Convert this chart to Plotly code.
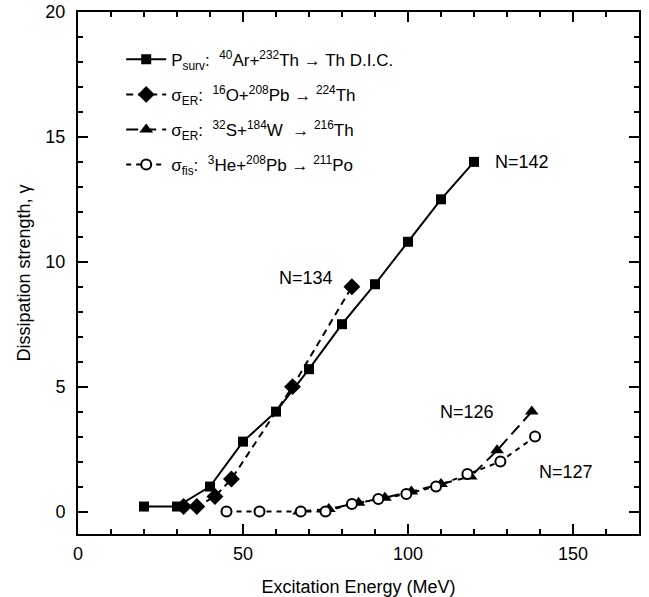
import plotly.graph_objects as go

# Data (Excitation energy in MeV, dissipation strength gamma)
surv_x = [20, 30, 40, 50, 60, 70, 80, 90, 100, 110, 120]
surv_y = [0.2, 0.2, 1.0, 2.8, 4.0, 5.7, 7.5, 9.1, 10.8, 12.5, 14.0]

er16_x = [32, 36, 41.5, 46.5, 65, 83]
er16_y = [0.2, 0.2, 0.6, 1.3, 5.0, 9.0]

er32_x = [67, 76, 85, 93, 101, 110, 119, 127, 137.5]
er32_y = [0.0, 0.1, 0.35, 0.55, 0.8, 1.1, 1.4, 2.45, 4.0]

fis_x = [45, 55, 67.5, 75, 83, 91, 99.5, 108.5, 118, 128, 138.5]
fis_y = [0.0, 0.0, 0.0, 0.0, 0.3, 0.5, 0.7, 1.0, 1.5, 2.0, 3.0]

names = [
    "P<sub>surv</sub>:  <sup>40</sup>Ar+<sup>232</sup>Th \u2192 Th D.I.C.",
    "\u03c3<sub>ER</sub>:  <sup>16</sup>O+<sup>208</sup>Pb \u2192 <sup>224</sup>Th",
    "\u03c3<sub>ER</sub>:  <sup>32</sup>S+<sup>184</sup>W  \u2192 <sup>216</sup>Th",
    "\u03c3<sub>fis</sub>:  <sup>3</sup>He+<sup>208</sup>Pb \u2192 <sup>211</sup>Po",
]

labels = ["N=142", "N=134", "N=126", "N=127"]
label_x = [134.5, 69, 118, 148]
label_y = [14.0, 9.35, 4.0, 1.6]

FONT = "Liberation Sans, Arial, Helvetica, sans-serif"

fig = go.Figure()
fig.add_trace(go.Scatter(
    x=surv_x, y=surv_y, mode="lines+markers", name=names[0], legendgroup="a",
    line=dict(color="black", width=2),
    marker=dict(symbol="square", size=10, color="black")))
fig.add_trace(go.Scatter(
    x=er16_x, y=er16_y, mode="lines+markers", name=names[1], legendgroup="b",
    line=dict(color="black", width=2, dash="7px,5px"),
    marker=dict(symbol="diamond", size=13, color="black")))
fig.add_trace(go.Scatter(
    x=er32_x, y=er32_y, mode="lines+markers", name=names[2], legendgroup="c",
    line=dict(color="black", width=2, dash="12px,6px"),
    marker=dict(symbol="triangle-up", size=12, color="black")))
fig.add_trace(go.Scatter(
    x=fis_x, y=fis_y, mode="lines+markers", name=names[3], legendgroup="d",
    line=dict(color="black", width=2, dash="5px,5px"),
    marker=dict(symbol="circle", size=10, color="white",
                line=dict(color="black", width=2))))

for t, xx, yy in zip(labels, label_x, label_y):
    fig.add_annotation(x=xx, y=yy, text=t, showarrow=False,
                       font=dict(family=FONT, size=18, color="black"))

axis_common = dict(
    showline=True, linecolor="black", linewidth=2, mirror="ticks",
    ticks="inside", tickcolor="black", tickwidth=2, ticklen=10,
    showgrid=False, zeroline=False,
    tickfont=dict(family=FONT, size=18, color="black"),
)

fig.update_xaxes(range=[0, 170], dtick=50, tick0=0,
                 minor=dict(dtick=10, ticks="inside", ticklen=5, tickwidth=2, tickcolor="black"),
                 title=dict(text="Excitation Energy (MeV)", font=dict(family=FONT, size=18, color="black"), standoff=18),
                 ticklabelstandoff=2,
                 **axis_common)
fig.update_yaxes(range=[-0.9, 20], dtick=5, tick0=0,
                 minor=dict(dtick=1, ticks="inside", ticklen=5, tickwidth=2, tickcolor="black"),
                 title=dict(text="Dissipation strength, \u03b3", font=dict(family=FONT, size=18, color="black"), standoff=10),
                 ticklabelstandoff=7,
                 **axis_common)

fig.update_layout(
    width=649, height=597,
    margin=dict(l=78, r=10, t=12, b=63, autoexpand=False),
    paper_bgcolor="white", plot_bgcolor="white",
    font=dict(family=FONT, size=18, color="black"),
    legend=dict(x=0.077, y=0.943, xanchor="left", yanchor="top",
                bgcolor="rgba(0,0,0,0)", font=dict(family=FONT, size=17, color="black"),
                traceorder="grouped", tracegroupgap=10, itemwidth=40),
)

fig.write_html("out.html")
